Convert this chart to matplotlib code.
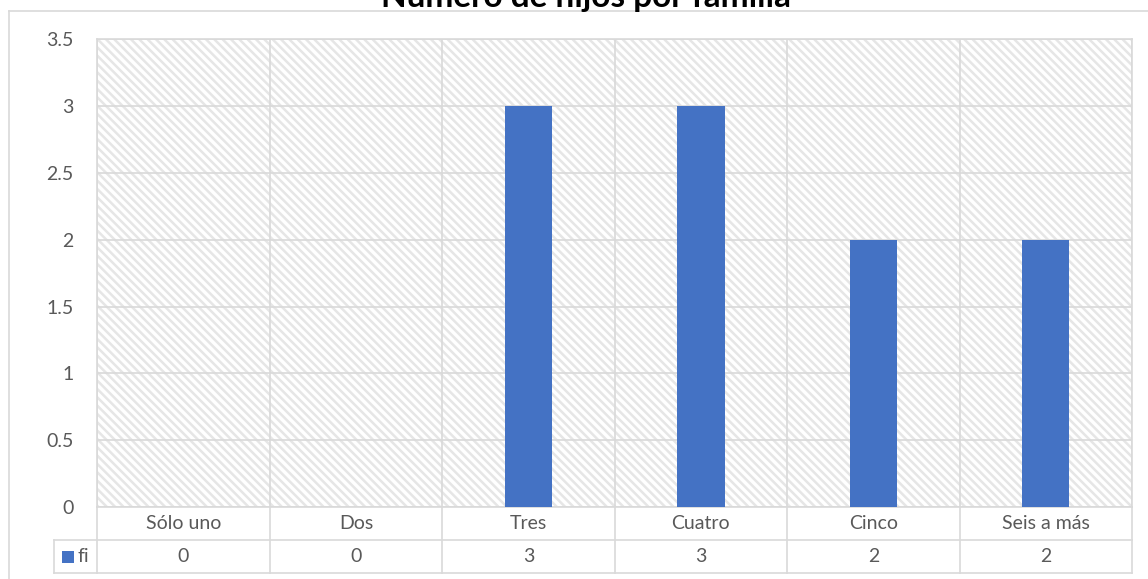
import numpy as np
import matplotlib
matplotlib.use("Agg")
import matplotlib.pyplot as plt
from matplotlib.patches import Rectangle
from matplotlib.lines import Line2D
from matplotlib.ticker import FuncFormatter

titulo = "Número de hijos por familia"
categorias = ["Sólo uno", "Dos", "Tres", "Cuatro", "Cinco", "Seis a más"]
fi = [0, 0, 3, 3, 2, 2]
serie = "fi"
y_ticks = [0, 0.5, 1, 1.5, 2, 2.5, 3, 3.5]

plt.rcParams["font.family"] = ["Lato", "DejaVu Sans"]
plt.rcParams["hatch.linewidth"] = 1.8

azul = "#4472C4"
gris = "#d9d9d9"
texto = "#595959"
fs = 14

W, H = 1148, 579
fig = plt.figure(figsize=(W / 100, H / 100), dpi=100)

# plot area in pixels
x0, x1 = 97.3, 1132
y_top, y_bot = 39.3, 507
ax = fig.add_axes([x0 / W, 1 - y_bot / H, (x1 - x0) / W, (y_bot - y_top) / H])

# hatched background (light downward diagonal)
ax.add_patch(Rectangle((0, 0), 1, 1, transform=ax.transAxes, facecolor="white",
                       edgecolor="#e6e6e6", hatch=chr(92) * 4, linewidth=0, zorder=0))

x = np.arange(len(categorias))
ax.bar(x, fi, width=0.275, color=azul, zorder=3)

ax.set_xlim(-0.5, len(categorias) - 0.5)
ax.set_ylim(0, 3.5)
ax.set_yticks(y_ticks)
ax.yaxis.set_major_formatter(FuncFormatter(lambda v, p: f"{v:g}"))
ax.set_xticks([])
ax.set_xticks(np.arange(-0.5, len(categorias)), minor=True)
ax.tick_params(axis="y", length=0, pad=17, labelsize=fs, labelcolor=texto)
ax.tick_params(axis="x", which="both", length=0, labelbottom=False)
ax.grid(axis="y", color=gris, linewidth=1.2, zorder=1)
ax.grid(axis="x", which="minor", color=gris, linewidth=1.2, zorder=1)
for s in ax.spines.values():
    s.set_color(gris)
    s.set_linewidth(1.2)

# data table below the axis
rh = 33 / (y_bot - y_top)
leg_x = -(x0 - 54) / (x1 - x0)
trans = ax.get_xaxis_transform()
for b in np.arange(-0.5, len(categorias)):
    ax.add_line(Line2D([b, b], [0, -2 * rh], transform=trans, color=gris,
                       linewidth=1.2, clip_on=False))
for yy in [-rh, -2 * rh]:
    ax.add_line(Line2D([leg_x, 1], [yy, yy], transform=ax.transAxes, color=gris,
                       linewidth=1.2, clip_on=False))
ax.add_line(Line2D([leg_x, leg_x], [-rh, -2 * rh], transform=ax.transAxes,
                   color=gris, linewidth=1.2, clip_on=False))
for i, (c, v) in enumerate(zip(categorias, fi)):
    ax.text(i, -rh / 2, c, transform=trans, ha="center", va="center",
            fontsize=fs, color=texto)
    ax.text(i, -1.5 * rh, str(v), transform=trans, ha="center", va="center",
            fontsize=fs, color=texto)

# legend key in the table
px = 1 / (x1 - x0)
py = 1 / (y_bot - y_top)
ax.add_patch(Rectangle((leg_x + 8 * px, -1.5 * rh - 6 * py), 12 * px, 12 * py,
                       transform=ax.transAxes, facecolor=azul, edgecolor="none",
                       clip_on=False))
ax.text(leg_x + 24 * px, -1.5 * rh, serie, transform=ax.transAxes, ha="left",
        va="center", fontsize=fs, color=texto)

# chart outer border
fig.add_artist(Line2D([8.5 / W, 8.5 / W], [0, 1 - 10.5 / H], color=gris, linewidth=1.2))
fig.add_artist(Line2D([8.5 / W, 1], [1 - 10.5 / H, 1 - 10.5 / H], color=gris, linewidth=1.2))

fig.text(586 / W, 1 - 7 / H, titulo, ha="center", va="baseline",
         fontsize=24, fontweight="bold", color="black")

fig.savefig("out.png", dpi=100)
